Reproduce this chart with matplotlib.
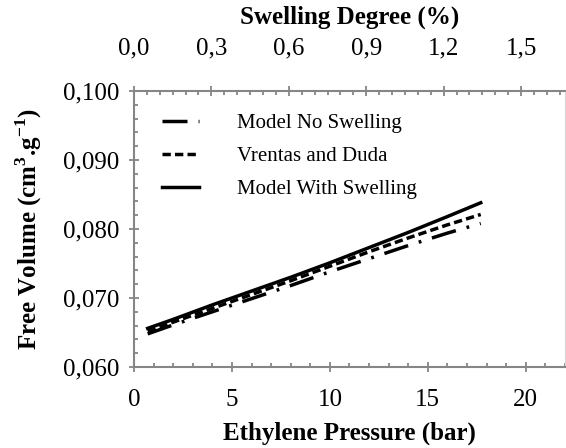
import matplotlib
matplotlib.use('Agg')
import matplotlib.pyplot as plt
from matplotlib.ticker import MultipleLocator, FuncFormatter

# Data
pressure = [0.7, 2, 4, 6, 8, 10, 12, 14, 16, 17.7]
with_swelling = [0.0656, 0.0669, 0.0690, 0.0710, 0.0730, 0.0751, 0.0773, 0.0795, 0.0818, 0.0838]
vrentas_duda = [0.0652, 0.0665, 0.0685, 0.0705, 0.0725, 0.0746, 0.0767, 0.0787, 0.0806, 0.0821]
no_swelling = [0.0648, 0.0661, 0.0680, 0.0699, 0.0718, 0.0738, 0.0757, 0.0776, 0.0794, 0.0808]

plt.rcParams['font.family'] = ['Liberation Serif', 'DejaVu Serif']
plt.rcParams['mathtext.fontset'] = 'custom'
plt.rcParams['mathtext.rm'] = 'Liberation Serif'
plt.rcParams['mathtext.bf'] = 'Liberation Serif:bold'
plt.rcParams['lines.scale_dashes'] = False

gray = '#868686'

fig = plt.figure(figsize=(5.66, 4.48), dpi=100)
ax = fig.add_axes([0.2367, 0.1808, 0.7615, 0.6162])

ax.plot(pressure, no_swelling, color='black', lw=2.5, linestyle=(0, (18, 8, 2, 8)),
        label='Model No Swelling')
ax.plot(pressure, vrentas_duda, color='black', lw=2.5, linestyle=(0, (6, 3)),
        label='Vrentas and Duda')
ax.plot(pressure, with_swelling, color='black', lw=2.5, label='Model With Swelling')

ax.set_xlim(0, 22)
ax.set_ylim(0.060, 0.100)
ax.xaxis.set_major_locator(MultipleLocator(5))
ax.xaxis.set_minor_locator(MultipleLocator(1))
ax.yaxis.set_major_locator(MultipleLocator(0.01))
ax.yaxis.set_minor_locator(MultipleLocator(0.002))
ax.yaxis.set_major_formatter(FuncFormatter(lambda v, p: f'{v:.3f}'.replace('.', ',')))

ax.tick_params(which='major', direction='inout', length=7, width=1.3, color=gray,
               labelsize=18, pad=7)
ax.tick_params(axis='x', which='major', pad=12)
ax.tick_params(which='minor', direction='in', length=3, width=1.3, color=gray)
ax.tick_params(top=False, right=False, which='both')

for s in ['left', 'bottom']:
    ax.spines[s].set_color(gray)
    ax.spines[s].set_linewidth(1.5)
ax.spines['top'].set_visible(False)
ax.spines['right'].set_color('#d9d9d9')
ax.spines['right'].set_linewidth(0.8)

ax.set_xlabel('Ethylene Pressure (bar)', fontsize=18, fontweight='bold', labelpad=8)
ax.set_ylabel(r'Free Volume (cm$^{\mathbf{3}}$.g$^{\mathbf{-1}}$)', fontsize=18,
              fontweight='bold', labelpad=14)

# Top axis: swelling degree
ax2 = ax.twiny()
ax2.set_xlim(0, 1.67)
ax2.xaxis.set_major_locator(MultipleLocator(0.3))
ax2.xaxis.set_minor_locator(MultipleLocator(0.05))
ax2.xaxis.set_major_formatter(FuncFormatter(lambda v, p: f'{v:.1f}'.replace('.', ',')))
ax2.tick_params(which='major', direction='inout', length=7, width=1.3, color=gray,
                labelsize=18, pad=19)
ax2.tick_params(which='minor', direction='in', length=3, width=1.3, color=gray)
for s in ['left', 'bottom', 'right']:
    ax2.spines[s].set_visible(False)
ax2.spines['top'].set_color(gray)
ax2.spines['top'].set_linewidth(1.5)
ax2.set_xlabel('Swelling Degree (%)', fontsize=18, fontweight='bold', labelpad=10)

ax.legend(loc='upper left', bbox_to_anchor=(0.021, 0.985), frameon=False, fontsize=15,
          handlelength=1.8, handletextpad=1.8, labelspacing=0.64)

fig.savefig('out.png', dpi=100)
